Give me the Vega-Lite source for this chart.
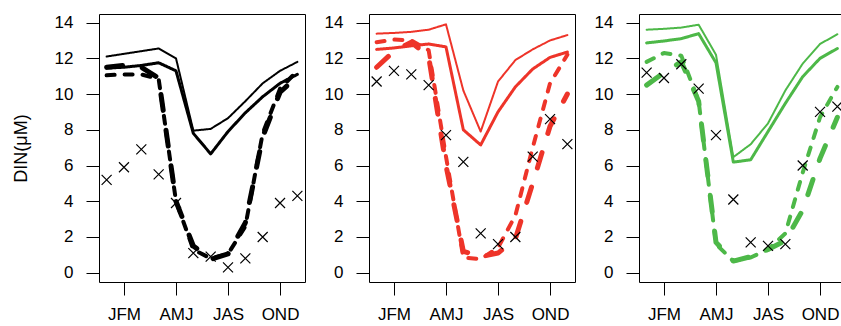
{
  "$schema": "https://vega.github.io/schema/vega-lite/v6.json",
  "padding": {"left": 11, "top": 13, "right": 0, "bottom": 0},
  "spacing": 17,
  "config": {
    "view": {"stroke": "black", "strokeWidth": 1},
    "axis": {"domain": false, "grid": false, "labelOverlap": false, "tickColor": "black", "tickSize": 13, "tickWidth": 1, "labelFont": "Liberation Sans", "labelFontSize": 17, "labelColor": "black", "titleFont": "Liberation Sans", "titleFontSize": 18, "titleFontWeight": "normal", "titleColor": "black"},
    "axisX": {"labelPadding": 11},
    "axisY": {"labelPadding": 13, "titlePadding": 24}
  },
  "datasets": {
    "lines": [
      {"panel":1,"series":"A","month":1,"value":12.1},{"panel":1,"series":"A","month":2,"value":12.25},{"panel":1,"series":"A","month":3,"value":12.4},{"panel":1,"series":"A","month":4,"value":12.55},{"panel":1,"series":"A","month":5,"value":12.0},{"panel":1,"series":"A","month":6,"value":7.95},{"panel":1,"series":"A","month":7,"value":8.05},{"panel":1,"series":"A","month":8,"value":8.65},{"panel":1,"series":"A","month":9,"value":9.6},{"panel":1,"series":"A","month":10,"value":10.6},{"panel":1,"series":"A","month":11,"value":11.3},{"panel":1,"series":"A","month":12,"value":11.8},
      {"panel":1,"series":"B","month":1,"value":11.45},{"panel":1,"series":"B","month":2,"value":11.5},{"panel":1,"series":"B","month":3,"value":11.6},{"panel":1,"series":"B","month":4,"value":11.75},{"panel":1,"series":"B","month":5,"value":11.3},{"panel":1,"series":"B","month":6,"value":7.8},{"panel":1,"series":"B","month":7,"value":6.65},{"panel":1,"series":"B","month":8,"value":7.9},{"panel":1,"series":"B","month":9,"value":8.95},{"panel":1,"series":"B","month":10,"value":9.85},{"panel":1,"series":"B","month":11,"value":10.6},{"panel":1,"series":"B","month":12,"value":11.1},
      {"panel":1,"series":"C","month":1,"value":11.05},{"panel":1,"series":"C","month":2,"value":11.1},{"panel":1,"series":"C","month":3,"value":11.1},{"panel":1,"series":"C","month":4,"value":10.85},{"panel":1,"series":"C","month":5,"value":4.0},{"panel":1,"series":"C","month":6,"value":1.3},{"panel":1,"series":"C","month":7,"value":0.8},{"panel":1,"series":"C","month":8,"value":1.05},{"panel":1,"series":"C","month":9,"value":2.6},{"panel":1,"series":"C","month":10,"value":7.8},{"panel":1,"series":"C","month":11,"value":10.3},{"panel":1,"series":"C","month":12,"value":11.3},
      {"panel":1,"series":"D","month":1,"value":11.5},{"panel":1,"series":"D","month":2,"value":11.6},{"panel":1,"series":"D","month":3,"value":11.5},{"panel":1,"series":"D","month":4,"value":10.9},{"panel":1,"series":"D","month":5,"value":4.0},{"panel":1,"series":"D","month":6,"value":1.5},{"panel":1,"series":"D","month":7,"value":0.75},{"panel":1,"series":"D","month":8,"value":1.05},{"panel":1,"series":"D","month":9,"value":2.8},{"panel":1,"series":"D","month":10,"value":7.6},{"panel":1,"series":"D","month":11,"value":10.1},{"panel":1,"series":"D","month":12,"value":11.0},
      {"panel":2,"series":"A","month":1,"value":13.38},{"panel":2,"series":"A","month":2,"value":13.42},{"panel":2,"series":"A","month":3,"value":13.48},{"panel":2,"series":"A","month":4,"value":13.6},{"panel":2,"series":"A","month":5,"value":13.9},{"panel":2,"series":"A","month":6,"value":10.2},{"panel":2,"series":"A","month":7,"value":7.9},{"panel":2,"series":"A","month":8,"value":10.7},{"panel":2,"series":"A","month":9,"value":11.9},{"panel":2,"series":"A","month":10,"value":12.5},{"panel":2,"series":"A","month":11,"value":13.0},{"panel":2,"series":"A","month":12,"value":13.3},
      {"panel":2,"series":"B","month":1,"value":12.5},{"panel":2,"series":"B","month":2,"value":12.58},{"panel":2,"series":"B","month":3,"value":12.7},{"panel":2,"series":"B","month":4,"value":12.8},{"panel":2,"series":"B","month":5,"value":12.64},{"panel":2,"series":"B","month":6,"value":8.0},{"panel":2,"series":"B","month":7,"value":7.15},{"panel":2,"series":"B","month":8,"value":9.0},{"panel":2,"series":"B","month":9,"value":10.4},{"panel":2,"series":"B","month":10,"value":11.4},{"panel":2,"series":"B","month":11,"value":12.05},{"panel":2,"series":"B","month":12,"value":12.35},
      {"panel":2,"series":"C","month":1,"value":12.9},{"panel":2,"series":"C","month":2,"value":13.05},{"panel":2,"series":"C","month":3,"value":13.0},{"panel":2,"series":"C","month":4,"value":12.45},{"panel":2,"series":"C","month":5,"value":6.5},{"panel":2,"series":"C","month":6,"value":0.85},{"panel":2,"series":"C","month":7,"value":0.75},{"panel":2,"series":"C","month":8,"value":1.4},{"panel":2,"series":"C","month":9,"value":3.2},{"panel":2,"series":"C","month":10,"value":7.0},{"panel":2,"series":"C","month":11,"value":10.6},{"panel":2,"series":"C","month":12,"value":12.2},
      {"panel":2,"series":"D","month":1,"value":11.5},{"panel":2,"series":"D","month":2,"value":12.4},{"panel":2,"series":"D","month":3,"value":12.9},{"panel":2,"series":"D","month":4,"value":12.1},{"panel":2,"series":"D","month":5,"value":6.0},{"panel":2,"series":"D","month":6,"value":1.2},{"panel":2,"series":"D","month":7,"value":0.9},{"panel":2,"series":"D","month":8,"value":1.1},{"panel":2,"series":"D","month":9,"value":1.9},{"panel":2,"series":"D","month":10,"value":5.0},{"panel":2,"series":"D","month":11,"value":8.2},{"panel":2,"series":"D","month":12,"value":10.0},
      {"panel":3,"series":"A","month":1,"value":13.6},{"panel":3,"series":"A","month":2,"value":13.65},{"panel":3,"series":"A","month":3,"value":13.72},{"panel":3,"series":"A","month":4,"value":13.88},{"panel":3,"series":"A","month":5,"value":12.2},{"panel":3,"series":"A","month":6,"value":6.47},{"panel":3,"series":"A","month":7,"value":7.19},{"panel":3,"series":"A","month":8,"value":8.36},{"panel":3,"series":"A","month":9,"value":10.2},{"panel":3,"series":"A","month":10,"value":11.7},{"panel":3,"series":"A","month":11,"value":12.8},{"panel":3,"series":"A","month":12,"value":13.35},
      {"panel":3,"series":"B","month":1,"value":12.86},{"panel":3,"series":"B","month":2,"value":12.97},{"panel":3,"series":"B","month":3,"value":13.1},{"panel":3,"series":"B","month":4,"value":13.38},{"panel":3,"series":"B","month":5,"value":11.75},{"panel":3,"series":"B","month":6,"value":6.19},{"panel":3,"series":"B","month":7,"value":6.32},{"panel":3,"series":"B","month":8,"value":7.9},{"panel":3,"series":"B","month":9,"value":9.48},{"panel":3,"series":"B","month":10,"value":10.97},{"panel":3,"series":"B","month":11,"value":12.0},{"panel":3,"series":"B","month":12,"value":12.55},
      {"panel":3,"series":"C","month":1,"value":11.8},{"panel":3,"series":"C","month":2,"value":12.3},{"panel":3,"series":"C","month":3,"value":12.15},{"panel":3,"series":"C","month":4,"value":9.6},{"panel":3,"series":"C","month":5,"value":1.6},{"panel":3,"series":"C","month":6,"value":0.65},{"panel":3,"series":"C","month":7,"value":0.85},{"panel":3,"series":"C","month":8,"value":1.3},{"panel":3,"series":"C","month":9,"value":2.2},{"panel":3,"series":"C","month":10,"value":5.6},{"panel":3,"series":"C","month":11,"value":8.7},{"panel":3,"series":"C","month":12,"value":10.4},
      {"panel":3,"series":"D","month":1,"value":10.5},{"panel":3,"series":"D","month":2,"value":11.2},{"panel":3,"series":"D","month":3,"value":11.8},{"panel":3,"series":"D","month":4,"value":9.6},{"panel":3,"series":"D","month":5,"value":1.7},{"panel":3,"series":"D","month":6,"value":0.65},{"panel":3,"series":"D","month":7,"value":0.9},{"panel":3,"series":"D","month":8,"value":1.3},{"panel":3,"series":"D","month":9,"value":1.8},{"panel":3,"series":"D","month":10,"value":3.5},{"panel":3,"series":"D","month":11,"value":6.4},{"panel":3,"series":"D","month":12,"value":8.7}
    ],
    "obs": [
      {"panel":1,"month":1,"value":5.2},{"panel":1,"month":2,"value":5.9},{"panel":1,"month":3,"value":6.9},{"panel":1,"month":4,"value":5.5},{"panel":1,"month":5,"value":3.9},{"panel":1,"month":6,"value":1.1},{"panel":1,"month":7,"value":0.9},{"panel":1,"month":8,"value":0.3},{"panel":1,"month":9,"value":0.8},{"panel":1,"month":10,"value":2.0},{"panel":1,"month":11,"value":3.9},{"panel":1,"month":12,"value":4.3},
      {"panel":2,"month":1,"value":10.7},{"panel":2,"month":2,"value":11.3},{"panel":2,"month":3,"value":11.1},{"panel":2,"month":4,"value":10.5},{"panel":2,"month":5,"value":7.7},{"panel":2,"month":6,"value":6.2},{"panel":2,"month":7,"value":2.2},{"panel":2,"month":8,"value":1.6},{"panel":2,"month":9,"value":2.0},{"panel":2,"month":10,"value":6.5},{"panel":2,"month":11,"value":8.6},{"panel":2,"month":12,"value":7.2},
      {"panel":3,"month":1,"value":11.2},{"panel":3,"month":2,"value":10.9},{"panel":3,"month":3,"value":11.67},{"panel":3,"month":4,"value":10.3},{"panel":3,"month":5,"value":7.7},{"panel":3,"month":6,"value":4.1},{"panel":3,"month":7,"value":1.7},{"panel":3,"month":8,"value":1.5},{"panel":3,"month":9,"value":1.6},{"panel":3,"month":10,"value":6.0},{"panel":3,"month":11,"value":9.0},{"panel":3,"month":12,"value":9.3}
    ]
  },
  "hconcat": [
    {
      "width": 206, "height": 268,
      "encoding": {
        "x": {"field": "month", "type": "quantitative", "scale": {"domain": [0.56, 12.44], "nice": false, "zero": false},
              "axis": {"title": null, "values": [2, 5, 8, 11], "labelExpr": "datum.value == 2 ? 'JFM' : datum.value == 5 ? 'AMJ' : datum.value == 8 ? 'JAS' : 'OND'"}},
        "y": {"field": "value", "type": "quantitative", "scale": {"domain": [-0.52, 14.48], "nice": false, "zero": false},
              "axis": {"title": "DIN(μM)", "values": [0, 2, 4, 6, 8, 10, 12, 14], "tickCount": 8}}
      },
      "layer": [
        {
          "data": {"name": "lines"},
          "transform": [{"filter": "datum.panel == 1"}],
          "mark": {"type": "line", "strokeCap": "round", "strokeJoin": "round", "clip": true},
          "encoding": {
            "detail": {"field": "series"},
            "color": {"value": "black"},
            "strokeWidth": {"field": "series", "type": "nominal", "scale": {"domain": ["A", "B", "C", "D"], "range": [2, 5, 2, 5]}, "legend": null},
            "strokeDash": {"field": "series", "type": "nominal", "scale": {"domain": ["A", "B", "C", "D"], "range": [[1, 0], [1, 0], [8, 10], [16, 20]]}, "legend": null}
          }
        },
        {
          "data": {"name": "obs"},
          "transform": [{"filter": "datum.panel == 1"}],
          "mark": {"type": "point", "shape": "M-1,-1L1,1M-1,1L1,-1", "size": 100, "strokeWidth": 1.2, "filled": false, "color": "black", "opacity": 1}
        }
      ]
    },
    {
      "width": 206, "height": 268,
      "encoding": {
        "x": {"field": "month", "type": "quantitative", "scale": {"domain": [0.56, 12.44], "nice": false, "zero": false},
              "axis": {"title": null, "values": [2, 5, 8, 11], "labelExpr": "datum.value == 2 ? 'JFM' : datum.value == 5 ? 'AMJ' : datum.value == 8 ? 'JAS' : 'OND'"}},
        "y": {"field": "value", "type": "quantitative", "scale": {"domain": [-0.52, 14.48], "nice": false, "zero": false},
              "axis": {"title": null, "values": [0, 2, 4, 6, 8, 10, 12, 14], "tickCount": 8}}
      },
      "layer": [
        {
          "data": {"name": "lines"},
          "transform": [{"filter": "datum.panel == 2"}],
          "mark": {"type": "line", "strokeCap": "round", "strokeJoin": "round", "clip": true},
          "encoding": {
            "detail": {"field": "series"},
            "color": {"value": "#EE3429"},
            "strokeWidth": {"field": "series", "type": "nominal", "scale": {"domain": ["A", "B", "C", "D"], "range": [2, 5, 2, 5]}, "legend": null},
            "strokeDash": {"field": "series", "type": "nominal", "scale": {"domain": ["A", "B", "C", "D"], "range": [[1, 0], [1, 0], [8, 10], [16, 20]]}, "legend": null}
          }
        },
        {
          "data": {"name": "obs"},
          "transform": [{"filter": "datum.panel == 2"}],
          "mark": {"type": "point", "shape": "M-1,-1L1,1M-1,1L1,-1", "size": 100, "strokeWidth": 1.2, "filled": false, "color": "black", "opacity": 1}
        }
      ]
    },
    {
      "width": 206, "height": 268,
      "encoding": {
        "x": {"field": "month", "type": "quantitative", "scale": {"domain": [0.56, 12.44], "nice": false, "zero": false},
              "axis": {"title": null, "values": [2, 5, 8, 11], "labelExpr": "datum.value == 2 ? 'JFM' : datum.value == 5 ? 'AMJ' : datum.value == 8 ? 'JAS' : 'OND'"}},
        "y": {"field": "value", "type": "quantitative", "scale": {"domain": [-0.52, 14.48], "nice": false, "zero": false},
              "axis": {"title": null, "values": [0, 2, 4, 6, 8, 10, 12, 14], "tickCount": 8}}
      },
      "layer": [
        {
          "data": {"name": "lines"},
          "transform": [{"filter": "datum.panel == 3"}],
          "mark": {"type": "line", "strokeCap": "round", "strokeJoin": "round", "clip": true},
          "encoding": {
            "detail": {"field": "series"},
            "color": {"value": "#4DB848"},
            "strokeWidth": {"field": "series", "type": "nominal", "scale": {"domain": ["A", "B", "C", "D"], "range": [2, 5, 2, 5]}, "legend": null},
            "strokeDash": {"field": "series", "type": "nominal", "scale": {"domain": ["A", "B", "C", "D"], "range": [[1, 0], [1, 0], [8, 10], [16, 20]]}, "legend": null}
          }
        },
        {
          "data": {"name": "obs"},
          "transform": [{"filter": "datum.panel == 3"}],
          "mark": {"type": "point", "shape": "M-1,-1L1,1M-1,1L1,-1", "size": 100, "strokeWidth": 1.2, "filled": false, "color": "black", "opacity": 1}
        }
      ]
    }
  ]
}
